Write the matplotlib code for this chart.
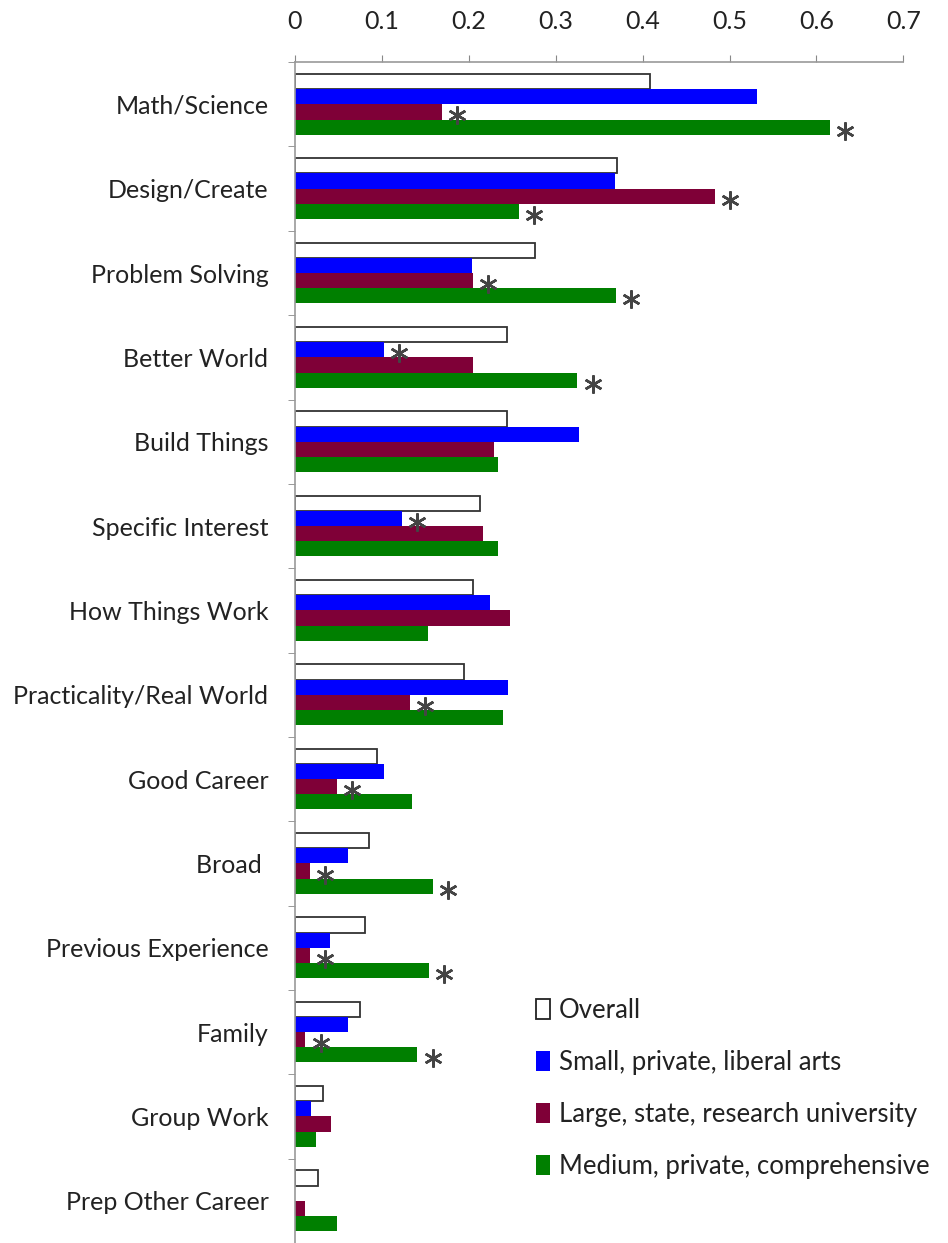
import matplotlib.pyplot as plt
from matplotlib.transforms import offset_copy
import numpy as np

plt.rcParams['font.family'] = ['Lato', 'DejaVu Sans']

categories = ["Math/Science", "Design/Create", "Problem Solving", "Better World",
              "Build Things", "Specific Interest", "How Things Work",
              "Practicality/Real World", "Good Career", "Broad ",
              "Previous Experience", "Family", "Group Work", "Prep Other Career"]

overall = [0.408, 0.371, 0.276, 0.244, 0.244, 0.213, 0.205, 0.195, 0.094, 0.085, 0.081, 0.075, 0.032, 0.027]
small = [0.531, 0.368, 0.204, 0.102, 0.327, 0.123, 0.225, 0.245, 0.102, 0.061, 0.040, 0.061, 0.019, 0.0]
large = [0.169, 0.483, 0.205, 0.205, 0.229, 0.217, 0.247, 0.132, 0.048, 0.017, 0.017, 0.012, 0.042, 0.012]
medium = [0.615, 0.258, 0.369, 0.325, 0.234, 0.234, 0.153, 0.239, 0.135, 0.159, 0.154, 0.141, 0.024, 0.049]

# significance marks (category index per series)
star_small = [3, 5]
star_large = [0, 1, 2, 7, 8, 9, 10, 11]
star_medium = [0, 1, 2, 3, 9, 10, 11]

series_names = ["Overall", "Small, private, liberal arts",
                "Large, state, research university", "Medium, private, comprehensive"]
colors = ["white", "#0000FF", "#7F0037", "#007F00"]

fig = plt.figure(figsize=(9.48, 12.43), dpi=100)
ax = fig.add_axes([0.311, 0.0, 0.642, 0.950])

y = np.arange(len(categories))
h = 0.18
offsets = [-1.5 * h, -0.5 * h, 0.5 * h, 1.5 * h]
data = [overall, small, large, medium]
for k in range(4):
    if k == 0:
        ax.barh(y + offsets[k], data[k], height=h, color="white", edgecolor="#333333",
                linewidth=1.3, label=series_names[k])
    else:
        ax.barh(y + offsets[k], data[k], height=h, color=colors[k], edgecolor="none",
                label=series_names[k])

star_trans = offset_copy(ax.transData, fig=fig, x=11, y=-2.5, units="points")
for k, idx in [(1, star_small), (2, star_large), (3, star_medium)]:
    xs = [data[k][i] for i in idx]
    ys = [y[i] + offsets[k] for i in idx]
    ax.plot(xs, ys, linestyle="none", marker=(6, 2, 0), markersize=13,
            markeredgewidth=1.8, color="#444444", transform=star_trans, clip_on=False)

ax.set_xlim(0, 0.7)
ax.set_ylim(len(categories) - 0.5, -0.5)
ax.xaxis.tick_top()
ax.set_xticks(np.arange(0, 0.71, 0.1))
ax.set_xticklabels(["0", "0.1", "0.2", "0.3", "0.4", "0.5", "0.6", "0.7"], fontsize=18)
ax.tick_params(axis="x", colors="#888888", labelcolor="#222222", length=5, pad=16)

ax.set_yticks(y)
ax.set_yticklabels(categories, fontsize=18, color="#222222")
ax.tick_params(axis="y", length=0, pad=19)
ax.set_yticks(np.arange(-0.5, len(categories), 1), minor=True)
ax.tick_params(axis="y", which="minor", length=5, colors="#888888")

for s in ["right", "bottom"]:
    ax.spines[s].set_visible(False)
for s in ["top", "left"]:
    ax.spines[s].set_color("#999999")
    ax.spines[s].set_linewidth(1.2)

leg = ax.legend(loc="upper left", bbox_to_anchor=(0.541, 0.2156), bbox_transform=fig.transFigure,
                frameon=False, fontsize=18.5, handlelength=0.55, handleheight=0.8,
                handletextpad=0.35, labelspacing=1.05)
leg.get_patches()[0].set_edgecolor("#222222")
for t in leg.get_texts():
    t.set_color("#222222")

fig.savefig("out.png", dpi=100)
